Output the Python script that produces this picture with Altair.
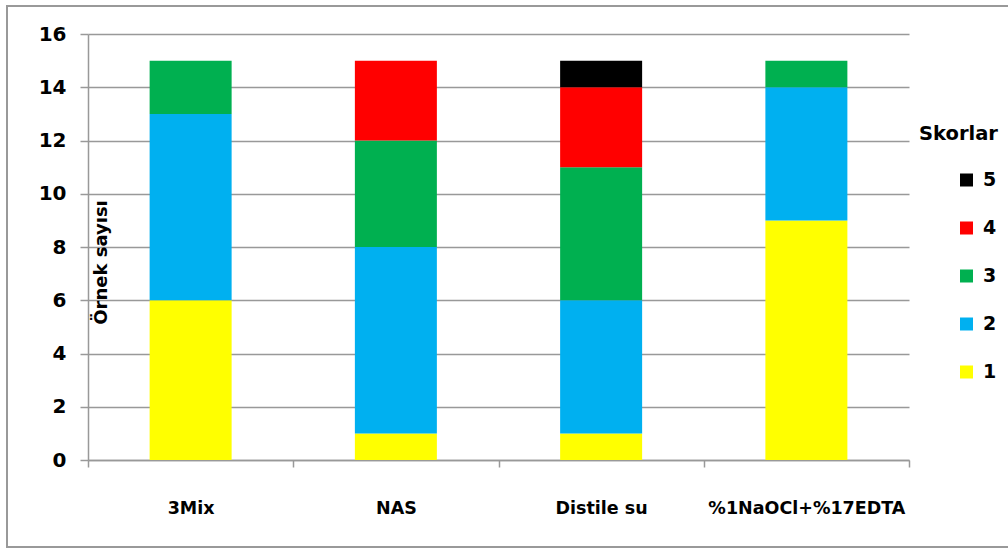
import altair as alt
import pandas as pd

# Treatment groups and number of samples per score
groups = ["3Mix", "NAS", "Distile su", "%1NaOCl+%17EDTA"]
scores = ["1", "2", "3", "4", "5"]
score_1 = [6, 1, 1, 9]
score_2 = [7, 7, 5, 5]
score_3 = [2, 4, 5, 1]
score_4 = [0, 3, 3, 0]
score_5 = [0, 0, 1, 0]
colors = {"5": "#000000", "4": "#FF0000", "3": "#00B050", "2": "#00B0F0", "1": "#FFFF00"}

rows = []
for s, vals in zip(scores, [score_1, score_2, score_3, score_4, score_5]):
    for g, v in zip(groups, vals):
        if v > 0:
            rows.append({"grup": g, "skor": s, "skor_no": int(s), "sayi": v})
df = pd.DataFrame(rows)

FONT = "DejaVu Sans"
W, H = 821, 426
PAD_L, PAD_T = 88, 34
PAD_R, PAD_B = 1008 - PAD_L - W, 550 - PAD_T - H

legend_order = ["5", "4", "3", "2", "1"]

bars = alt.Chart(df).mark_bar(size=82).encode(
    x=alt.X("grup:N", sort=groups, title=None,
            scale=alt.Scale(paddingInner=0, paddingOuter=0),
            axis=alt.Axis(labelAngle=0, labelFont=FONT, labelFontSize=17.5,
                          labelFontWeight="bold", labelColor="#000000",
                          labelLimit=400, labelPadding=32, tickBand="extent",
                          tickSize=7, tickColor="#999999", domainColor="#999999",
                          domainWidth=1.5, tickWidth=1.5, grid=False)),
    y=alt.Y("sum(sayi):Q", title="Örnek sayısı", stack="zero",
            scale=alt.Scale(domain=[0, 16], nice=False),
            axis=alt.Axis(values=list(range(0, 17, 2)), labelFont=FONT,
                          labelFontSize=20, labelFontWeight="bold",
                          labelColor="#000000", labelPadding=14, tickSize=8,
                          tickColor="#999999", domainColor="#999999",
                          domainWidth=1.5, tickWidth=1.5,
                          gridColor="#999999", gridWidth=1.5,
                          titleFont=FONT, titleFontSize=18, titleFontWeight="bold",
                          titleColor="#000000", titleAngle=270, titleX=13,
                          titleY=228, titleAlign="center", titleBaseline="middle")),
    color=alt.Color("skor:N", title="Skorlar",
                    scale=alt.Scale(domain=legend_order,
                                    range=[colors[k] for k in legend_order]),
                    legend=alt.Legend(orient="none", legendX=831, legendY=91,
                                      titleFont=FONT, titleFontSize=19.5,
                                      titleFontWeight="bold", titleColor="#000000",
                                      titlePadding=26, titleLimit=200,
                                      labelFont=FONT, labelFontSize=19,
                                      labelFontWeight="bold", labelColor="#000000",
                                      symbolType="square", symbolSize=169,
                                      symbolStrokeWidth=0, symbolOffset=38,
                                      rowPadding=28, labelOffset=7, offset=0,
                                      padding=0)),
    order=alt.Order("skor_no:Q", sort="ascending"),
)

# Chart frame around the whole figure (its right edge runs past the page)
frame = alt.Chart(pd.DataFrame({"k": [0]})).mark_rect(
    fill=None, stroke="#999999", strokeWidth=2, clip=False
).encode(
    x=alt.value(-PAD_L + 7), x2=alt.value(W + PAD_R + 20),
    y=alt.value(-PAD_T + 6), y2=alt.value(H + 87),
)

chart = alt.layer(frame, bars).properties(
    width=W, height=H,
    autosize=alt.AutoSizeParams(type="none"),
    padding={"left": PAD_L, "top": PAD_T, "right": PAD_R, "bottom": PAD_B},
    background="#FFFFFF",
).configure_view(stroke=None)

chart.save("out.html", embed_options={"renderer": "svg", "actions": False})
